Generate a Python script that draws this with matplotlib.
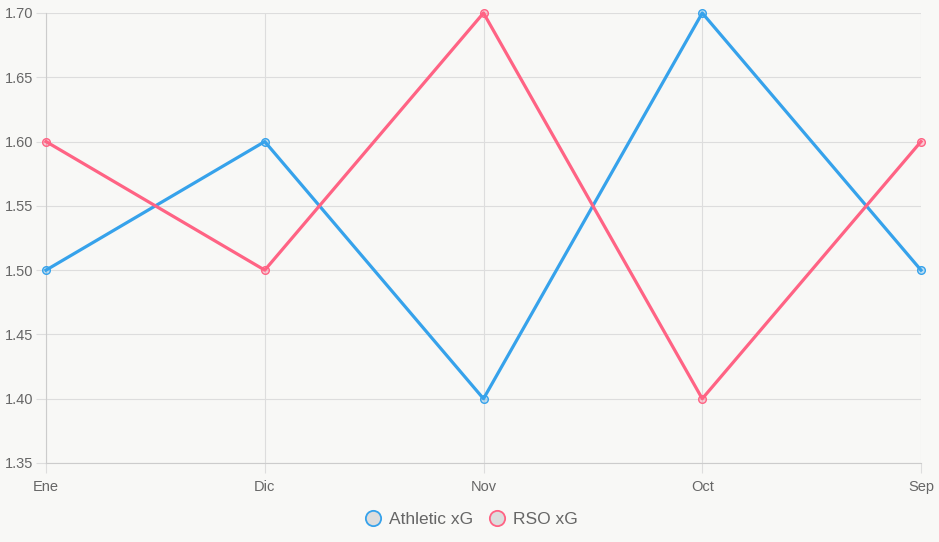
import matplotlib
matplotlib.use("Agg")
import matplotlib.pyplot as plt
from matplotlib.lines import Line2D

plt.rcParams['font.family'] = ['Liberation Sans', 'DejaVu Sans']

categories = ["Ene", "Dic", "Nov", "Oct", "Sep"]
athletic = [1.50, 1.60, 1.40, 1.70, 1.50]
rso = [1.60, 1.50, 1.70, 1.40, 1.60]
yticks = [1.35, 1.40, 1.45, 1.50, 1.55, 1.60, 1.65, 1.70]

W, H = 939, 542
bg = "#f8f8f6"
fig = plt.figure(figsize=(W/100, H/100), dpi=100, facecolor=bg)
ax = fig.add_axes([46/W, 1-463/H, (921-46)/W, (463-13)/H], facecolor=bg)

x = list(range(len(categories)))
blue = "#36a2eb"
pink = "#ff6384"
ax.plot(x, athletic, color=blue, lw=2.3, marker="o", ms=5.5, mfc=(0.21, 0.64, 0.92, 0.3), mec=blue, mew=1, zorder=3, clip_on=False)
ax.plot(x, rso, color=pink, lw=2.3, marker="o", ms=5.5, mfc=(1, 0.39, 0.52, 0.3), mec=pink, mew=1, zorder=3, clip_on=False)

ax.set_xlim(0, 4)
ax.set_ylim(1.35, 1.70)
ax.set_xticks(x)
ax.set_xticklabels(categories)
ax.set_yticks(yticks)
ax.set_yticklabels([f"{v:.2f}" for v in yticks])
ax.grid(True, color="#dddddd", lw=0.8)
ax.set_axisbelow(True)
for s in ["top", "right"]:
    ax.spines[s].set_visible(False)
for s in ["left", "bottom"]:
    ax.spines[s].set_color("#cccccc")
    ax.spines[s].set_linewidth(0.8)
ax.tick_params(axis="both", colors="#dddddd", length=7, width=0.8, labelcolor="#666666", labelsize=10.5)
ax.tick_params(axis="y", pad=2)
ax.tick_params(axis="x", pad=5)

handles = [
    Line2D([], [], ls="none", marker="o", ms=11, mfc="#dddddd", mec=blue, mew=1.3, label="Athletic xG"),
    Line2D([], [], ls="none", marker="o", ms=11, mfc="#dddddd", mec=pink, mew=1.3, label="RSO xG"),
]
fig.legend(handles=handles, loc="center", bbox_to_anchor=(470/W, 1-519/H), ncol=2, frameon=False,
           fontsize=12.5, labelcolor="#666666", handletextpad=0.3, columnspacing=0.8, handlelength=1.2)

fig.savefig("out.png", dpi=100, facecolor=bg)
